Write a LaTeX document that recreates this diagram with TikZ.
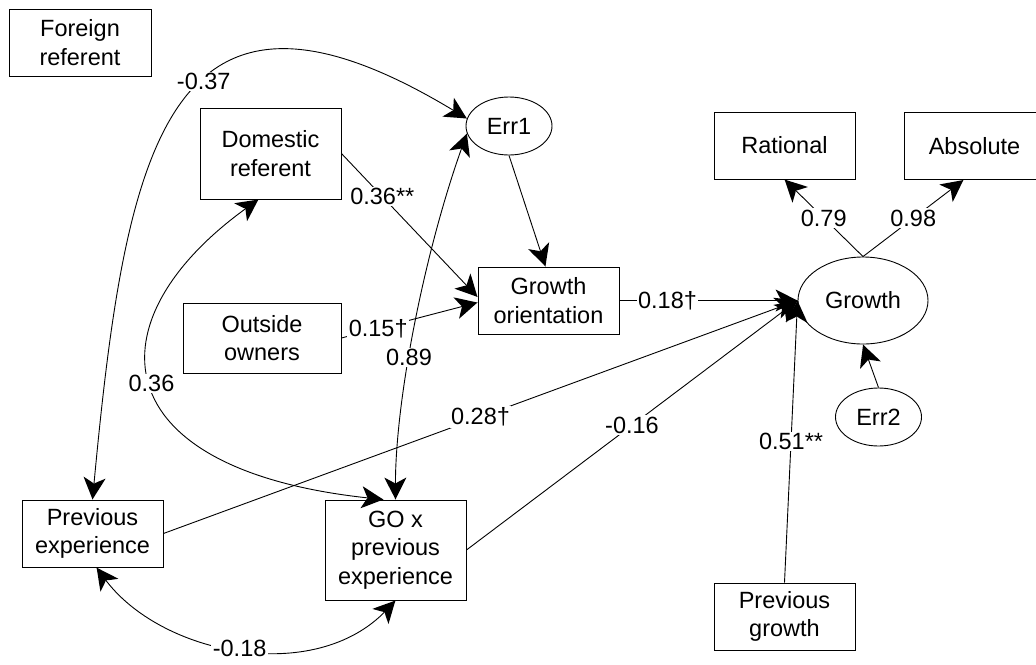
\documentclass[tikz,border=0pt]{standalone}
\usepackage{fontspec}
\setmainfont{Liberation Sans}
\usetikzlibrary{arrows.meta,shapes.geometric,calc}

% Filled arrow head with concave sides and a notched back
\pgfdeclarearrow{
  name = Amos,
  parameters = {\the\pgfarrowlength},
  setup code = {
    \pgfarrowssettipend{0pt}
    \pgfarrowssetlineend{-0.6\pgfarrowlength}
    \pgfarrowsupperhullpoint{0pt}{0pt}
    \pgfarrowsupperhullpoint{-\pgfarrowlength}{0.5\pgfarrowlength}
    \pgfarrowssavethe\pgfarrowlength
  },
  drawing code = {
    \pgfpathmoveto{\pgfpointorigin}
    \pgfpathcurveto{\pgfpoint{-0.3\pgfarrowlength}{0.14\pgfarrowlength}}{\pgfpoint{-0.7\pgfarrowlength}{0.36\pgfarrowlength}}{\pgfpoint{-\pgfarrowlength}{0.5\pgfarrowlength}}
    \pgfpathcurveto{\pgfpoint{-0.88\pgfarrowlength}{0.28\pgfarrowlength}}{\pgfpoint{-0.78\pgfarrowlength}{0.07\pgfarrowlength}}{\pgfpoint{-0.72\pgfarrowlength}{0pt}}
    \pgfpathcurveto{\pgfpoint{-0.78\pgfarrowlength}{-0.07\pgfarrowlength}}{\pgfpoint{-0.88\pgfarrowlength}{-0.28\pgfarrowlength}}{\pgfpoint{-\pgfarrowlength}{-0.5\pgfarrowlength}}
    \pgfpathcurveto{\pgfpoint{-0.7\pgfarrowlength}{-0.36\pgfarrowlength}}{\pgfpoint{-0.3\pgfarrowlength}{-0.14\pgfarrowlength}}{\pgfpointorigin}
    \pgfpathclose
    \pgfusepathqfill
  },
  defaults = {length = 22pt}
}

\begin{document}
\begin{tikzpicture}[x=1pt, y=-1pt,
  every node/.style={font=\fontsize{23.5}{28.3}\selectfont, inner sep=0pt},
  box/.style={draw, rectangle, align=center, line width=0.9pt,
    minimum width=141pt, minimum height=67pt},
  latent/.style={draw, ellipse, line width=0.9pt,
    minimum width=86pt, minimum height=58pt},
  link/.style={line width=0.9pt, -{Amos[length=22pt]}},
  cov/.style={line width=0.9pt, {Amos[length=22pt]}-{Amos[length=22pt]}},
  coef/.style={fill=white, inner sep=1.5pt}
]
\useasboundingbox (0,0) rectangle (1036,664);

% observed variables
\node[box, minimum width=142pt] (foreign) at (80,42.5) {Foreign\\referent};
\node[box, minimum height=91pt] (domestic) at (270.5,153.5) {Domestic\\referent};
\node[box, minimum width=158pt, minimum height=70pt] (outside) at (262,338) {Outside\\owners};
\node[box] (prevexp) at (92.5,533.5) {Previous\\experience};
\node[box, minimum height=100pt] (gox) at (395.5,550) {GO x\\previous\\experience};
\node[box] (growthor) at (548.5,300.5) {Growth\\orientation};
\node[box] (rational) at (784.5,145.5) {Rational};
\node[box] (absolute) at (974.5,146) {Absolute};
\node[box] (prevgrowth) at (784.5,616.5) {Previous\\growth};

% latent variables and error terms
\node[latent] (err1) at (509,126) {Err1};
\node[latent, minimum width=130pt, minimum height=87pt] (growth) at (863,300.5) {Growth};
\node[latent] (err2) at (878.5,417) {Err2};

% regression paths
\draw[link] (domestic.east) -- node[coef, pos=0.30] {0.36**} ([yshift=3.5pt]growthor.west);
\draw[link] (outside.east) -- node[coef, pos=0.27] {0.15†} ([yshift=-2pt]growthor.west);
\draw[link] (err1.south) -- ([xshift=-3pt]growthor.north);
\draw[link] (growthor.east) -- node[coef, pos=0.27] {0.18†} (growth.west);
\draw[link] (prevexp.east) -- node[coef, pos=0.5] {0.28†} (growth.west);
\draw[link] (gox.east) -- node[coef, pos=0.5] {-0.16} (growth.west);
\draw[link] (prevgrowth.north) -- node[coef, pos=0.5] {0.51**} (growth.west);
\draw[link] (growth.north) -- node[coef] {0.79} (rational.south);
\draw[link] (growth.north) -- node[coef] {0.98} ([xshift=-11pt]absolute.south);
\draw[link] (err2.north) -- (growth.south);

% covariances
\draw[cov] (err1.170) .. controls (167.5,-63.5) and (125.5,147) .. (prevexp.north)
  node[coef, pos=0.43] {-0.37};
\draw[cov] (err1.190) .. controls (425,250) and (395,400) .. (gox.north)
  node[coef, pos=0.59] {0.89};
\draw[cov] ([xshift=-12pt]domestic.south) .. controls (90,320) and (100,470) .. ([xshift=-12pt]gox.north)
  node[coef, pos=0.5] {0.36};
\draw[cov] ([xshift=4pt]prevexp.south) .. controls (160,655) and (315,686) .. (gox.south)
  node[coef, pos=0.5] {-0.18};
\end{tikzpicture}
\end{document}
